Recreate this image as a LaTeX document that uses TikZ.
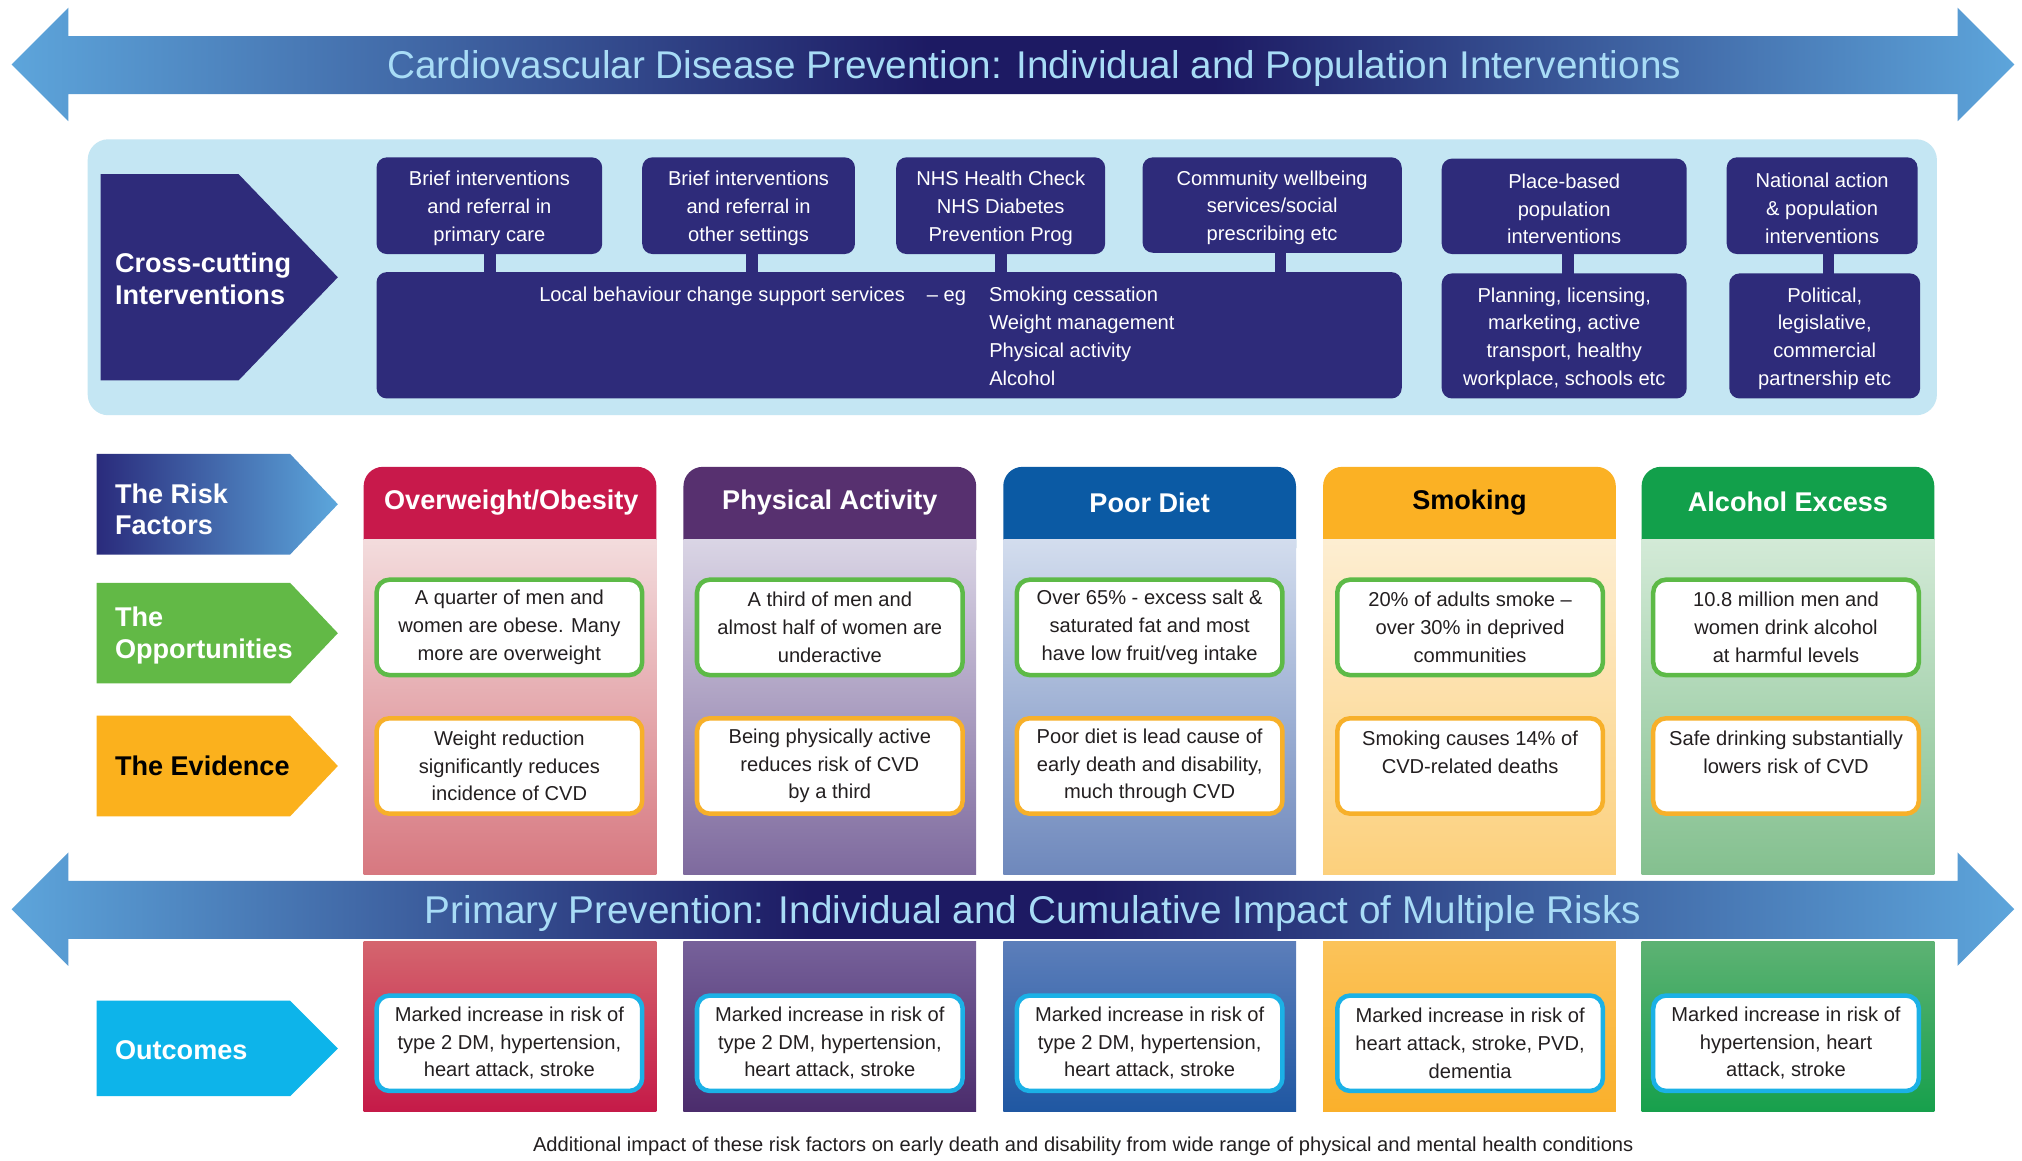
\documentclass[tikz,border=0pt]{standalone}
\usepackage{fontspec}
\setmainfont{Liberation Sans}
\usetikzlibrary{calc}
\definecolor{navy}{HTML}{2E2B7A}
\definecolor{panelblue}{HTML}{C4E6F3}
\definecolor{arrlight}{HTML}{5DA5DB}
\definecolor{arrdark}{HTML}{1D1A63}
\definecolor{titleblue}{HTML}{A8DCF6}
\definecolor{bodytext}{HTML}{231F20}
\definecolor{hdA}{HTML}{C8194B}\definecolor{taA}{HTML}{F3DCDD}\definecolor{tbA}{HTML}{D77880}\definecolor{laA}{HTML}{D4656E}\definecolor{lbA}{HTML}{C51A48}
\definecolor{hdB}{HTML}{57306F}\definecolor{taB}{HTML}{DAD5E5}\definecolor{tbB}{HTML}{7E6A9E}\definecolor{laB}{HTML}{76619A}\definecolor{lbB}{HTML}{4B2C6C}
\definecolor{hdC}{HTML}{0B5AA4}\definecolor{taC}{HTML}{D3DDEE}\definecolor{tbC}{HTML}{6E88BC}\definecolor{laC}{HTML}{5C7EBA}\definecolor{lbC}{HTML}{1F57A2}
\definecolor{hdD}{HTML}{FBB124}\definecolor{taD}{HTML}{FDEED2}\definecolor{tbD}{HTML}{FCD07C}\definecolor{laD}{HTML}{FBC35A}\definecolor{lbD}{HTML}{FAB02B}
\definecolor{hdE}{HTML}{12A04B}\definecolor{taE}{HTML}{D3EAD7}\definecolor{tbE}{HTML}{84C08F}\definecolor{laE}{HTML}{5DB273}\definecolor{lbE}{HTML}{17A04C}
\definecolor{oppline}{HTML}{5DBA47}
\definecolor{evline}{HTML}{F7B02A}
\definecolor{outline}{HTML}{1BB1E6}
\definecolor{rfleft}{HTML}{2A2B7C}
\definecolor{rfright}{HTML}{5CA7DC}
\definecolor{oppchev}{HTML}{62B946}
\definecolor{evchev}{HTML}{FBB11D}
\definecolor{outchev}{HTML}{0DB4EA}
\pgfdeclarehorizontalshading{arrowtop}{100bp}{color(0bp)=(arrlight); color(25bp)=(arrlight); color(48bp)=(arrdark); color(55bp)=(arrdark); color(75bp)=(arrlight); color(100bp)=(arrlight)}
\pgfdeclarehorizontalshading{arrowbot}{100bp}{color(0bp)=(arrlight); color(25bp)=(arrlight); color(45bp)=(arrdark); color(52bp)=(arrdark); color(75bp)=(arrlight); color(100bp)=(arrlight)}
\newcommand\myBody{\fontsize{15.6}{21.5}\selectfont}
\newcommand\myBold{\bfseries\fontsize{21}{24.5}\selectfont}
\newcommand\myTitle{\fontsize{30}{34}\selectfont}
\newcommand\myFoot{\fontsize{15.6}{18}\selectfont}
\newcommand\myStrut{\rule{0pt}{15.5pt}}
\begin{document}
\begin{tikzpicture}[x=1pt,y=-1pt,
  ccbox/.style={fill=navy, rounded corners=8, text=white, align=center, font=\myBody, inner sep=1},
  conn/.style={draw=navy, line width=9, shorten <=-2, shorten >=-2},
  lab/.style={font=\myBold, text=white, align=left, inner sep=0, anchor=west},
  hdr/.style={font=\myBold, text=white, inner sep=0},
  wbox/.style={fill=white, line width=3.5, rounded corners=10, minimum width=206, minimum height=74, align=center, font=\myBody, text=bodytext, inner sep=1},
  oppbox/.style={wbox, draw=oppline},
  evbox/.style={wbox, draw=evline},
  outbox/.style={wbox, draw=outline},
  arrtitle/.style={font=\myTitle, text=titleblue, anchor=base, inner sep=0}
]
\useasboundingbox (0,0) rectangle (1568,900.3);
\fill[white] (0,0) rectangle (1568,900.3);

% top arrow
\shade[shading=arrowtop] (9,50) -- (53,6) -- (53,28) -- (1518,28) -- (1518,6) -- (1562,50) -- (1518,94) -- (1518,73) -- (53,73) -- (53,94) -- cycle;
\node[arrtitle] (toptitle) at (802,61) {Cardiovascular Disease Prevention: Individual and Population Interventions};

% cross-cutting panel
\fill[panelblue, rounded corners=16] (68,108) rectangle (1502,322);
\fill[navy] (78,135) -- (185,135) -- (262,215) -- (185,295) -- (78,295) -- cycle;
\node[lab] (lcc) at (89,216) {Cross-cutting\\Interventions};

\node[ccbox, minimum width=175, minimum height=75] (b1) at (379.5,159.5) {\myStrut Brief interventions\\and referral in\\primary care};
\node[ccbox, minimum width=165, minimum height=75] (b2) at (580.5,159.5) {\myStrut Brief interventions\\and referral in\\other settings};
\node[ccbox, minimum width=162, minimum height=75] (b3) at (776,159.5) {\myStrut NHS Health Check\\NHS Diabetes\\Prevention Prog};
\node[ccbox, minimum width=201, minimum height=74] (b4) at (986.5,159) {\myStrut Community wellbeing\\services/social\\prescribing etc};
\node[ccbox, minimum width=190, minimum height=74] (b5) at (1213,160) {\myStrut Place-based\\population\\interventions};
\node[ccbox, minimum width=148, minimum height=75] (b6) at (1413,159.5) {\myStrut National action\\\& population\\interventions};
\node[ccbox, minimum width=795, minimum height=98] (big) at (689.5,260) {};
\node[ccbox, minimum width=190, minimum height=97] (b5l) at (1213,260.5) {\myStrut Planning, licensing,\\marketing, active\\transport, healthy\\workplace, schools etc};
\node[ccbox, minimum width=148, minimum height=97] (b6l) at (1415,260.5) {\myStrut Political,\\legislative,\\commercial\\partnership etc};
\node[font=\myBody, text=white, inner sep=0, anchor=west] (lbc) at (418,262) {\begin{tabular}{@{}r@{\hspace{18pt}}l@{}}Local behaviour change support services\hspace{17pt}– eg & Smoking cessation\\ & Weight management\\ & Physical activity\\ & Alcohol\end{tabular}};

\draw[conn] ([xshift=0.5]b1.south) -- ([xshift=0.5]b1.south |- big.north);
\draw[conn] ([xshift=2.5]b2.south) -- ([xshift=2.5]b2.south |- big.north);
\draw[conn] (b3.south) -- (b3.south |- big.north);
\draw[conn] ([xshift=6.5]b4.south) -- ([xshift=6.5]b4.south |- big.north);
\draw[conn] ([xshift=3]b5.south) -- ([xshift=3]b5.south |- b5l.north);
\draw[conn] ([xshift=5]b6.south) -- ([xshift=5]b6.south |- b6l.north);

% left chevrons
\shade[left color=rfleft, right color=rfright] (75,352) -- (225,352) -- (262,391) -- (225,430) -- (75,430) -- cycle;
\fill[oppchev] (75,452) -- (225,452) -- (262,491) -- (225,530) -- (75,530) -- cycle;
\fill[evchev] (75,555) -- (225,555) -- (262,594) -- (225,633) -- (75,633) -- cycle;
\fill[outchev] (75,776) -- (225,776) -- (262,813) -- (225,850) -- (75,850) -- cycle;
\node[lab] (lrf) at (89,395) {The Risk\\Factors};
\node[lab] (lop) at (89,493) {The\\Opportunities};
\node[lab, text=black] (lev) at (89,594) {The Evidence};
\node[lab] (lou) at (89,814) {Outcomes};

% columns
\foreach \i/\x in {A/282,B/530,C/778,D/1026,E/1273}{
  \fill[hd\i, rounded corners=15] (\x,362) rectangle ({\x+227},440);
  \shade[top color=ta\i, bottom color=tb\i] (\x,418) rectangle ({\x+227},678);
  \shade[top color=la\i, bottom color=lb\i] (\x,730) rectangle ({\x+227},862);
}
\node[hdr] (h1) at (396.5,390) {Overweight/Obesity};
\node[hdr] (h2) at (643.5,390) {Physical Activity};
\node[hdr] (h3) at (891.5,390) {Poor Diet};
\node[hdr, text=black] (h4) at (1139.5,390) {Smoking};
\node[hdr] (h5) at (1386.5,389) {Alcohol Excess};

\node[oppbox] (o1) at (395,486.5) {A quarter of men and\\women are obese. Many\\more are overweight};
\node[oppbox] (o2) at (643.5,486.5) {A third of men and\\almost half of women are\\underactive};
\node[oppbox] (o3) at (891.5,486.5) {Over 65\% - excess salt \&\\saturated fat and most\\have low fruit/veg intake};
\node[oppbox] (o4) at (1140,486.5) {20\% of adults smoke –\\over 30\% in deprived\\communities};
\node[oppbox] (o5) at (1385,486.5) {10.8 million men and\\women drink alcohol\\at harmful levels};

\node[evbox] (e1) at (395,594) {Weight reduction\\significantly reduces\\incidence of CVD};
\node[evbox] (e2) at (643.5,594) {Being physically active\\reduces risk of CVD\\by a third};
\node[evbox] (e3) at (891.5,594) {Poor diet is lead cause of\\early death and disability,\\much through CVD};
\node[evbox] (e4) at (1140,594) {Smoking causes 14\% of\\CVD-related deaths\\\mbox{}};
\node[evbox] (e5) at (1385,594) {Safe drinking substantially\\lowers risk of CVD\\\mbox{}};

% bottom arrow
\shade[shading=arrowbot] (9,705) -- (53,661) -- (53,683) -- (1518,683) -- (1518,661) -- (1562,705) -- (1518,749) -- (1518,728) -- (53,728) -- (53,749) -- cycle;
\node[arrtitle] (bottitle) at (801,716) {Primary Prevention: Individual and Cumulative Impact of Multiple Risks};

\node[outbox] (u1) at (395,809) {Marked increase in risk of\\type 2 DM, hypertension,\\heart attack, stroke};
\node[outbox] (u2) at (643.5,809) {Marked increase in risk of\\type 2 DM, hypertension,\\heart attack, stroke};
\node[outbox] (u3) at (891.5,809) {Marked increase in risk of\\type 2 DM, hypertension,\\heart attack, stroke};
\node[outbox] (u4) at (1140,809) {Marked increase in risk of\\heart attack, stroke, PVD,\\dementia};
\node[outbox] (u5) at (1385,809) {Marked increase in risk of\\hypertension, heart\\attack, stroke};

\node[font=\myFoot, text=bodytext, inner sep=0] (foot) at (840,889) {Additional impact of these risk factors on early death and disability from wide range of physical and mental health conditions};
\end{tikzpicture}
\end{document}
